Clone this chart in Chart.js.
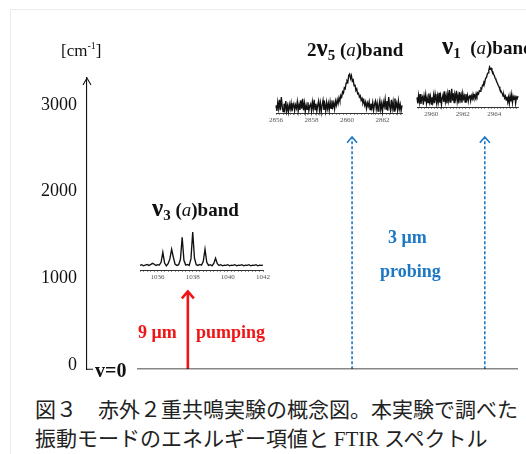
<!DOCTYPE html>
<html>
<head>
<meta charset="utf-8">
<script src="https://cdn.jsdelivr.net/npm/chart.js@4.4.1/dist/chart.umd.min.js"></script>
<style>
  html, body { margin: 0; padding: 0; background: #fff; }
  body { position: relative; width: 526px; height: 454px; overflow: hidden; }
  #frame { position: absolute; left: 10px; top: 9px; width: 530px; height: 460px;
           border-left: 1px solid #ececec; border-top: 1px solid #ececec; }
  .abs { position: absolute; white-space: nowrap; }
  .serif { font-family: "Liberation Serif", "DejaVu Serif", serif; color: #111; }
  .band { font-family: "Liberation Serif", serif; font-weight: bold; font-size: 19px; color: #111; line-height: 1; }
  .band .nu { font-size: 25px; }
  .band sub { font-size: 15px; vertical-align: -4px; }
  .band i { font-weight: normal; }
  .red { color: #f01414; font-family: "Liberation Serif", serif; font-weight: bold; font-size: 18px; line-height: 1; }
  .blue { color: #1c78c4; font-family: "Liberation Serif", serif; font-weight: bold; font-size: 18px; line-height: 1; }
  #caption { position: absolute; left: 35px; top: 394px; font-family: "Noto Sans CJK JP", sans-serif;
             font-size: 21px; line-height: 29px; color: #222; white-space: nowrap; }
  #caption .lat { font-family: "Liberation Serif", serif; }
</style>
</head>
<body>
<div id="frame"></div>

<canvas id="energy" class="abs" style="left:0;top:0" width="526" height="390"></canvas>
<canvas id="specV3" class="abs"></canvas>
<canvas id="spec2V5" class="abs"></canvas>
<canvas id="specV1" class="abs"></canvas>

<div class="abs serif" style="left:61px;top:41px;font-size:17px;line-height:1">[cm<sup style="font-size:10px">-1</sup>]</div>
<div class="abs serif" style="left:95px;top:360px;font-size:20px;font-weight:bold;line-height:1">v=0</div>

<div class="abs band" style="left:152px;top:195px"><span class="nu">ν</span><sub>3</sub> (<i>a</i>)band</div>
<div class="abs band" style="left:307px;top:35px">2<span class="nu">ν</span><sub>5</sub> (<i>a</i>)band</div>
<div class="abs band" style="left:442px;top:33px"><span class="nu">ν</span><sub>1</sub>&nbsp; (<i>a</i>)band</div>

<div class="abs red" style="left:138px;top:323px">9 μm</div>
<div class="abs red" style="left:196px;top:323px">pumping</div>
<div class="abs blue" style="left:388px;top:228px">3 μm</div>
<div class="abs blue" style="left:380px;top:262px">probing</div>

<div id="caption">図３　赤外２重共鳴実験の概念図。本実験で調べた<br>振動モードのエネルギー項値と <span class="lat">FTIR</span> スペクトル</div>

<script>
// ---- Energy-level diagram data (cm^-1) ----
const energyTicks = [0, 1000, 2000, 3000];
const groundLevel = -46;                 // drawn height of the v=0 line
const arrowNames = ['pump 9 μm', 'probe 3 μm (2ν5)', 'probe 3 μm (ν1)'];
const arrowTops = [850, 2630, 2630];     // where each arrow stops, below its band

// ---- FTIR spectra ----
// ν3(a) band, 1035.0–1042.0 cm^-1, step 0.1
const v3Start = 1035.0, v3Step = 0.1;
const v3Values = [
  0.03,0.05,0.02,0.04,0.06,0.03,0.05,0.09,0.07,0.03,
  0.05,0.04,0.12,0.41,0.10,0.02,0.08,0.22,0.50,0.26,
  0.06,0.03,0.05,0.20,0.85,0.18,0.04,0.06,0.03,0.22,
  1.00,0.24,0.05,0.03,0.06,0.04,0.14,0.50,0.12,0.03,
  0.05,0.02,0.09,0.24,0.08,0.03,0.05,0.02,0.04,0.03,
  0.05,0.02,0.04,0.03,0.05,0.02,0.04,0.03,0.05,0.02,
  0.04,0.03,0.05,0.02,0.04,0.03,0.05,0.02,0.04,0.03,
  0.04
];
const v3TickLabels = [1036, 1038, 1040, 1042];

// 2ν5(a) band, 2856.00–2863.10 cm^-1, step 0.05
const v5Start = 2856.0, v5Step = 0.05;
const v5Values = [
  0.05,-0.12,0.15,-0.05,0.22,-0.10,0.30,0.02,-0.14,0.10,-0.08,0.18,-0.12,0.04,-0.15,0.08,-0.06,0.12,-0.13,0.02,
  0.10,-0.11,0.06,-0.04,0.16,-0.12,0.08,-0.09,0.20,-0.05,0.25,-0.10,0.12,-0.14,0.06,-0.07,0.14,-0.11,0.03,0.09,
  -0.12,0.15,-0.06,0.22,-0.08,0.10,-0.13,0.05,0.18,-0.10,0.12,-0.15,0.06,0.20,-0.09,0.08,-0.12,0.14,-0.05,0.11,
  -0.10,0.16,-0.04,0.20,0.00,0.12,-0.06,0.18,0.05,0.22,
  0.10,0.28,0.18,0.35,0.30,0.46,0.42,0.58,0.55,0.72,0.80,0.76,0.96,1.00,0.86,0.95,0.78,0.82,0.64,0.68,
  0.50,0.55,0.40,0.42,0.30,0.34,0.20,0.26,0.12,0.20,0.05,0.15,-0.05,0.12,0.02,0.16,-0.08,0.10,-0.04,0.14,
  -0.10,0.08,0.18,-0.06,0.12,-0.12,0.05,0.20,-0.08,0.10,-0.13,0.15,0.02,0.24,-0.06,0.18,-0.11,0.30,0.04,-0.10,
  0.22,-0.05,0.16,-0.12,0.26,0.00,0.12,-0.10,0.18,-0.06,0.08,-0.12,0.05
];
const v5TickLabels = [2856, 2858, 2860, 2862];

// ν1(a) band, 2959.10–2965.50 cm^-1, step 0.05
const v1Start = 2959.1, v1Step = 0.05;
const v1Values = [
  0.08,-0.10,0.14,-0.06,0.18,-0.12,0.05,0.10,-0.14,0.12,-0.04,0.16,-0.10,0.06,-0.08,0.20,-0.05,0.10,-0.12,0.08,
  -0.06,0.14,-0.10,0.18,0.02,-0.12,0.12,-0.05,0.22,-0.08,0.10,-0.14,0.06,0.16,-0.06,0.26,-0.04,0.12,-0.10,0.18,
  0.00,0.30,-0.06,0.14,0.34,-0.02,0.20,-0.08,0.16,0.06,0.28,-0.04,0.12,-0.10,0.24,0.02,0.15,-0.08,0.20,0.04,
  0.12,-0.06,0.18,0.02,0.14,-0.04,0.10,0.16,-0.02,0.12,0.04,0.18,0.08,0.14,0.06,0.20,0.12,0.22,
  0.18,0.28,0.26,0.36,0.34,0.45,0.44,0.56,0.55,0.66,0.68,0.78,0.82,0.90,1.00,0.94,0.96,0.88,0.86,0.78,
  0.74,0.66,0.62,0.55,0.50,0.44,0.40,0.32,0.30,0.24,0.20,0.12,0.16,0.06,0.12,0.00,0.10,-0.06,0.08,-0.10,
  0.12,-0.04,0.16,-0.08,0.10,0.02,0.14,-0.10,0.08,0.04,0.12
];
const v1TickLabels = [2960, 2962, 2964];

// ---------------------------------------------------------------
const RED = '#f01414';
const BLUE = '#1c78c4';
const SERIF = 'Liberation Serif';
const arrowX = [23.4, 61.5, 92.3];       // horizontal slots (0–100 across the plot)
const arrowStyle = [
  { color: RED,  width: 2.6, dash: [],     head: 6, headW: 2.6 },
  { color: BLUE, width: 1.6, dash: [3, 2], head: 5, headW: 1.6 },
  { color: BLUE, width: 1.6, dash: [3, 2], head: 5, headW: 1.6 }
];

const arrowDatasets = arrowTops.map((top, i) => ({
  label: arrowNames[i],
  data: [{ x: arrowX[i], y: groundLevel }, { x: arrowX[i], y: top }],
  showLine: true,
  borderColor: arrowStyle[i].color,
  borderWidth: arrowStyle[i].width,
  borderDash: arrowStyle[i].dash,
  pointRadius: 0,
  isArrow: true
}));

const groundDataset = {
  label: 'v=0',
  data: [{ x: 11.6, y: groundLevel }, { x: 100, y: groundLevel }],
  showLine: true,
  borderColor: '#111',
  borderWidth: 1.6,
  pointRadius: 0
};

// arrowheads on the transition arrows and on the energy axis
const arrowHeads = {
  id: 'arrowHeads',
  afterDatasetsDraw(chart) {
    const ctx = chart.ctx;
    chart.data.datasets.forEach((ds, i) => {
      if (!ds.isArrow) return;
      const p = chart.getDatasetMeta(i).data[1];
      const st = arrowStyle[i - 1];
      ctx.save();
      ctx.strokeStyle = st.color;
      ctx.lineWidth = st.headW;
      ctx.setLineDash([]);
      ctx.lineJoin = 'miter';
      ctx.beginPath();
      ctx.moveTo(p.x - st.head, p.y + st.head * 1.15);
      ctx.lineTo(p.x, p.y);
      ctx.lineTo(p.x + st.head, p.y + st.head * 1.15);
      ctx.stroke();
      ctx.restore();
    });
    const y = chart.scales.y;
    const ax = y.right;
    ctx.save();
    ctx.strokeStyle = '#111';
    ctx.lineWidth = 1.1;
    ctx.beginPath();
    ctx.moveTo(ax - 4, y.top + 7);
    ctx.lineTo(ax, y.top);
    ctx.lineTo(ax + 4, y.top + 7);
    ctx.moveTo(ax, y.bottom);
    ctx.lineTo(ax + 6, y.bottom);
    ctx.stroke();
    ctx.restore();
  }
};

new Chart(document.getElementById('energy'), {
  type: 'scatter',
  data: { datasets: [groundDataset, ...arrowDatasets] },
  options: {
    responsive: false,
    animation: false,
    devicePixelRatio: 1,
    layout: { padding: { left: 0, right: 8, top: 78, bottom: 20 } },
    plugins: { legend: { display: false }, tooltip: { enabled: false } },
    scales: {
      x: { type: 'linear', min: 0, max: 100, display: false },
      y: {
        type: 'linear', min: groundLevel, max: 3310,
        afterBuildTicks: s => { s.ticks = energyTicks.map(v => ({ value: v })); },
        afterFit: s => { s.width = 87; },
        grid: { display: false, drawTicks: false },
        border: { display: true, color: '#111', width: 1.1 },
        ticks: {
          padding: 10,
          color: '#111',
          font: { family: SERIF, size: 18 },
          callback: v => String(v)
        }
      }
    }
  },
  plugins: [arrowHeads]
});

// ---- small FTIR inset spectra ----
function makeSpectrum(id, box, start, step, values, labels, yMin, yMax) {
  const padX = 14, axisH = 14;
  const cv = document.getElementById(id);
  cv.width = Math.round(box.right - box.left + 2 * padX);
  cv.height = Math.round(box.bottom - box.top + 2 + axisH);
  cv.style.left = (box.left - padX) + 'px';
  cv.style.top = (box.top - 2) + 'px';
  const pts = values.map((v, i) => ({ x: +(start + i * step).toFixed(3), y: v }));
  const xMin = start, xMax = +(start + (values.length - 1) * step).toFixed(3);
  new Chart(cv, {
    type: 'line',
    data: { datasets: [{ data: pts, borderColor: '#111', borderWidth: 1.35, pointRadius: 0, tension: 0 }] },
    options: {
      responsive: false,
      animation: false,
      devicePixelRatio: 1,
      clip: false,
      layout: { padding: { left: padX, right: padX, top: 2, bottom: 0 } },
      plugins: { legend: { display: false }, tooltip: { enabled: false } },
      scales: {
        x: {
          type: 'linear', min: xMin, max: xMax,
          afterBuildTicks: s => {
            const t = [];
            for (let v = Math.ceil(xMin * 5) / 5; v <= xMax + 1e-6; v += 0.2) t.push({ value: +v.toFixed(2) });
            s.ticks = t;
          },
          afterFit: s => { s.height = axisH; },
          grid: { drawOnChartArea: false, drawTicks: true, tickLength: 2, color: '#777', lineWidth: 0.8 },
          border: { display: true, color: '#333', width: 1 },
          ticks: {
            autoSkip: false, maxRotation: 0, padding: 1, color: '#555',
            font: { family: SERIF, size: 7 },
            callback: v => labels.includes(Math.round(v * 10) / 10) ? String(Math.round(v)) : ''
          }
        },
        y: { type: 'linear', min: yMin, max: yMax, display: false }
      }
    }
  });
}

makeSpectrum('specV3',  { left: 139.5, right: 262,   top: 230, bottom: 269.5 }, v3Start, v3Step, v3Values, v3TickLabels, -0.103, 1.059);
makeSpectrum('spec2V5', { left: 276,   right: 402.4, top: 70,  bottom: 113 },   v5Start, v5Step, v5Values, v5TickLabels, -0.182, 1.121);
makeSpectrum('specV1',  { left: 416.8, right: 517.6, top: 64,  bottom: 107 },   v1Start, v1Step, v1Values, v1TickLabels, -0.212, 1.091);
</script>
</body>
</html>
